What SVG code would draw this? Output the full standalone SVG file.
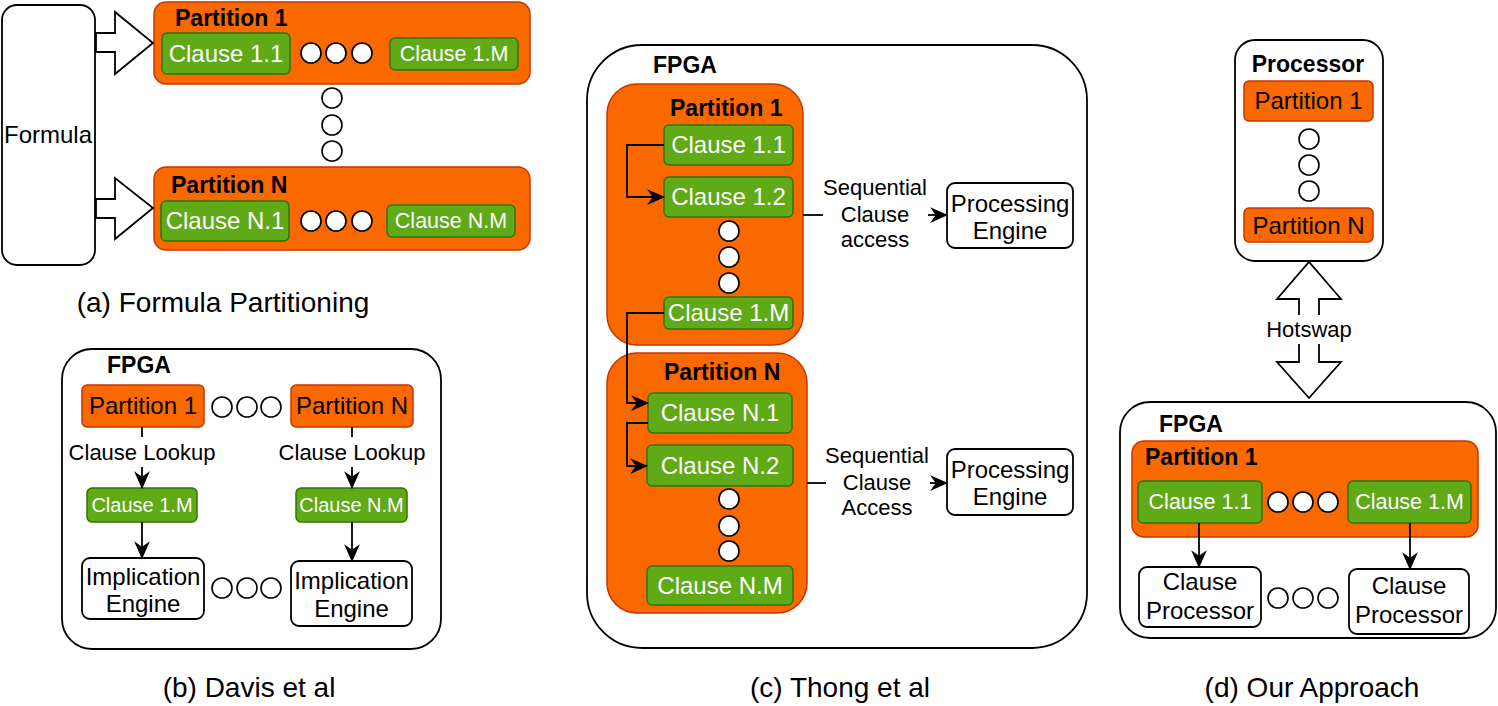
<svg xmlns="http://www.w3.org/2000/svg" width="1498" height="706" viewBox="0 0 1498 706">
<style>
.bg{fill:#fff}
.box{fill:#fff;stroke:#000;stroke-width:1.8}
.org{fill:#FA6800;stroke:#C73500;stroke-width:1.5}
.grn{fill:#60A917;stroke:#2D7600;stroke-width:1.5}
.dot{fill:#fff;stroke:#000;stroke-width:1.6}
.ln{fill:none;stroke:#000;stroke-width:1.8}
.blk{fill:#fff;stroke:#000;stroke-width:1.8;stroke-linejoin:miter}
text{font-family:"Liberation Sans",Arial,Helvetica,sans-serif;font-size:24px;fill:#000}
.w{fill:#fff}
.b{font-weight:bold;font-size:23px}
.m{text-anchor:middle}
.s22{font-size:22px}
.s21{font-size:21.5px}
.s20{font-size:20px}
.cap{font-size:28px}
</style>
<defs>
<marker id="arr" viewBox="0 0 16 14" refX="15" refY="7" markerWidth="18" markerHeight="16" orient="auto" markerUnits="userSpaceOnUse">
<path d="M0,0 L16,7 L0,14 L5,7 Z" fill="#000"/>
</marker>
</defs>
<rect class="bg" x="0" y="0" width="1498" height="706"/>

<!-- (a) Formula Partitioning -->
<g id="a-formula"><rect class="box" x="2" y="5" width="93" height="260" rx="15"/><text class="m" x="48" y="143">Formula</text></g>
<g id="a-part1">
<rect class="org" x="154" y="2" width="376" height="82" rx="12"/>
<text class="b" x="175" y="26">Partition 1</text>
<g id="a-c11"><rect class="grn" x="162" y="33" width="128" height="41" rx="5"/><text class="w m" x="226" y="62">Clause 1.1</text></g>
<circle class="dot" cx="311" cy="53" r="10"/><circle class="dot" cx="336" cy="53" r="10"/><circle class="dot" cx="362" cy="53" r="10"/>
<g id="a-c1m"><rect class="grn" x="390" y="38" width="128" height="32" rx="5"/><text class="w m s21" x="454" y="61">Clause 1.M</text></g>
</g>
<g id="a-vdots"><circle class="dot" cx="332" cy="98" r="10"/><circle class="dot" cx="332" cy="125" r="10"/><circle class="dot" cx="332" cy="151" r="10"/></g>
<g id="a-partN">
<rect class="org" x="154" y="167" width="376" height="83" rx="12"/>
<text class="b" x="171" y="193">Partition N</text>
<g id="a-cn1"><rect class="grn" x="161" y="201" width="128" height="40" rx="5"/><text class="w m" x="225" y="229">Clause N.1</text></g>
<circle class="dot" cx="311" cy="221" r="10"/><circle class="dot" cx="336" cy="221" r="10"/><circle class="dot" cx="362" cy="221" r="10"/>
<g id="a-cnm"><rect class="grn" x="387" y="205" width="128" height="32" rx="5"/><text class="w m s21" x="451" y="228">Clause N.M</text></g>
</g>
<text class="m cap" x="223" y="312">(a) Formula Partitioning</text>

<!-- (b) Davis et al -->
<g id="b-fpga"><rect class="box" x="62" y="349" width="379" height="300" rx="30"/><text class="b" x="107" y="373">FPGA</text></g>
<g id="b-p1"><rect class="org" x="82" y="385" width="122" height="42" rx="5"/><text class="m" x="143" y="414">Partition 1</text></g>
<g id="b-dots1"><circle class="dot" cx="222" cy="407" r="10"/><circle class="dot" cx="247" cy="407" r="10"/><circle class="dot" cx="271" cy="407" r="10"/></g>
<g id="b-pN"><rect class="org" x="291" y="385" width="122" height="42" rx="5"/><text class="m" x="352" y="414">Partition N</text></g>
<g id="b-c1m"><rect class="grn" x="87" y="488" width="110" height="34" rx="5"/><text class="w m s20" x="142" y="512">Clause 1.M</text></g>
<g id="b-cNm"><rect class="grn" x="296" y="488" width="111" height="34" rx="5"/><text class="w m s20" x="351.5" y="512">Clause N.M</text></g>
<g id="b-ie1"><rect class="box" x="82" y="558" width="122" height="61" rx="8"/><text class="m" x="143" y="585">Implication</text><text class="m" x="143" y="612">Engine</text></g>
<g id="b-dots2"><circle class="dot" cx="222" cy="588" r="10"/><circle class="dot" cx="247" cy="588" r="10"/><circle class="dot" cx="271" cy="588" r="10"/></g>
<g id="b-ieN"><rect class="box" x="291" y="561" width="121" height="65" rx="8"/><text class="m" x="351.5" y="589">Implication</text><text class="m" x="351.5" y="617">Engine</text></g>
<text class="m cap" x="249" y="697">(b) Davis et al</text>

<!-- (c) Thong et al -->
<g id="c-fpga"><rect class="box" x="587" y="45" width="500" height="603" rx="55"/><text class="b" x="653" y="73">FPGA</text></g>
<g id="c-p1">
<rect class="org" x="607" y="84" width="196" height="261" rx="30"/>
<text class="b" x="670" y="116">Partition 1</text>
<g id="c-c11"><rect class="grn" x="664" y="125" width="129" height="40" rx="5"/><text class="w m" x="728.5" y="153">Clause 1.1</text></g>
<g id="c-c12"><rect class="grn" x="664" y="177" width="129" height="40" rx="5"/><text class="w m" x="728.5" y="205">Clause 1.2</text></g>
<circle class="dot" cx="729" cy="231" r="10"/><circle class="dot" cx="729" cy="257" r="10"/><circle class="dot" cx="729" cy="283" r="10"/>
<g id="c-c1m"><rect class="grn" x="664" y="297" width="129" height="32" rx="5"/><text class="w m" x="728.5" y="321">Clause 1.M</text></g>
</g>
<g id="c-pN">
<rect class="org" x="607" y="353" width="200" height="260" rx="30"/>
<text class="b" x="664" y="380">Partition N</text>
<g id="c-cn1"><rect class="grn" x="648" y="393" width="144" height="40" rx="5"/><text class="w m" x="720" y="421">Clause N.1</text></g>
<g id="c-cn2"><rect class="grn" x="647" y="445" width="146" height="41" rx="5"/><text class="w m" x="720" y="474">Clause N.2</text></g>
<circle class="dot" cx="729" cy="499" r="10"/><circle class="dot" cx="729" cy="526" r="10"/><circle class="dot" cx="729" cy="551" r="10"/>
<g id="c-cnm"><rect class="grn" x="647" y="566" width="146" height="39" rx="5"/><text class="w m" x="720" y="594">Clause N.M</text></g>
</g>
<g id="c-pe1"><rect class="box" x="947" y="183" width="126" height="65" rx="8"/><text class="m" x="1010" y="212">Processing</text><text class="m" x="1010" y="239">Engine</text></g>
<g id="c-pe2"><rect class="box" x="947" y="449" width="126" height="66" rx="8"/><text class="m" x="1010" y="478">Processing</text><text class="m" x="1010" y="505">Engine</text></g>
<text class="m cap" x="840" y="697">(c) Thong et al</text>

<!-- (d) Our Approach -->
<g id="d-proc">
<rect class="box" x="1235" y="40" width="148" height="221" rx="20"/>
<text class="b m" x="1308" y="72">Processor</text>
<g id="d-p1"><rect class="org" x="1244" y="81" width="129" height="40" rx="5"/><text class="m" x="1308.5" y="109">Partition 1</text></g>
<circle class="dot" cx="1309" cy="139" r="10"/><circle class="dot" cx="1309" cy="165" r="10"/><circle class="dot" cx="1309" cy="191" r="10"/>
<g id="d-pN"><rect class="org" x="1244" y="208" width="129" height="34" rx="5"/><text class="m" x="1308.5" y="234">Partition N</text></g>
</g>
<g id="d-fpga">
<rect class="box" x="1120" y="402" width="376" height="236" rx="30"/>
<text class="b" x="1159" y="432">FPGA</text>
<g id="d-part1">
<rect class="org" x="1132" y="441" width="346" height="96" rx="12"/>
<text class="b" x="1145" y="465">Partition 1</text>
<g id="d-c11"><rect class="grn" x="1138" y="481" width="124" height="42" rx="5"/><text class="w m s21" x="1200" y="509">Clause 1.1</text></g>
<circle class="dot" cx="1278" cy="502" r="10"/><circle class="dot" cx="1303" cy="502" r="10"/><circle class="dot" cx="1328" cy="502" r="10"/>
<g id="d-c1m"><rect class="grn" x="1348" y="481" width="123" height="42" rx="5"/><text class="w m s21" x="1409.5" y="509">Clause 1.M</text></g>
</g>
<g id="d-cp1"><rect class="box" x="1139" y="567" width="122" height="60" rx="8"/><text class="m" x="1200" y="590">Clause</text><text class="m" x="1200" y="619">Processor</text></g>
<circle class="dot" cx="1278" cy="598" r="10"/><circle class="dot" cx="1303" cy="598" r="10"/><circle class="dot" cx="1328" cy="598" r="10"/>
<g id="d-cp2"><rect class="box" x="1349" y="569" width="120" height="65" rx="8"/><text class="m" x="1409" y="594">Clause</text><text class="m" x="1409" y="623">Processor</text></g>
</g>
<text class="m cap" x="1312" y="697">(d) Our Approach</text>

<!-- connectors -->
<g id="connectors">
<polygon class="blk" points="96,33 115,33 115,12 153,43 115,74 115,52 96,52"/>
<polygon class="blk" points="96,199 115,199 115,178 153,208 115,239 115,218 96,218"/>
<path class="ln" d="M142,427 V437"/>
<path class="ln" d="M142,467 V488" marker-end="url(#arr)"/>
<text class="m s22" x="142" y="460">Clause Lookup</text>
<path class="ln" d="M352,427 V437"/>
<path class="ln" d="M352,467 V488" marker-end="url(#arr)"/>
<text class="m s22" x="352" y="460">Clause Lookup</text>
<path class="ln" d="M142,522 V558" marker-end="url(#arr)"/>
<path class="ln" d="M352,522 V561" marker-end="url(#arr)"/>
<path class="ln" d="M664,145 H627 V197 H664" marker-end="url(#arr)"/>
<path class="ln" d="M664,313 H627 V403 H648" marker-end="url(#arr)"/>
<path class="ln" d="M648,423 H627 V466 H647" marker-end="url(#arr)"/>
<path class="ln" d="M803,215 H823"/>
<path class="ln" d="M928,215 H947" marker-end="url(#arr)"/>
<text class="m s22" x="875" y="195">Sequential</text>
<text class="m s22" x="875" y="222">Clause</text>
<text class="m s22" x="875" y="247">access</text>
<path class="ln" d="M807,483 H826"/>
<path class="ln" d="M930,483 H947" marker-end="url(#arr)"/>
<text class="m s22" x="877" y="463">Sequential</text>
<text class="m s22" x="877" y="490">Clause</text>
<text class="m s22" x="877" y="515">Access</text>
<path class="blk" d="M1299,315 V299 H1277 L1309,262 L1341,299 H1319 V315"/>
<path class="blk" d="M1299,344 V362 H1277 L1309,398 L1341,362 H1319 V344"/>
<text class="m s22" x="1309" y="337">Hotswap</text>
<path class="ln" d="M1199,523 V567" marker-end="url(#arr)"/>
<path class="ln" d="M1410,523 V569" marker-end="url(#arr)"/>
</g>
</svg>
